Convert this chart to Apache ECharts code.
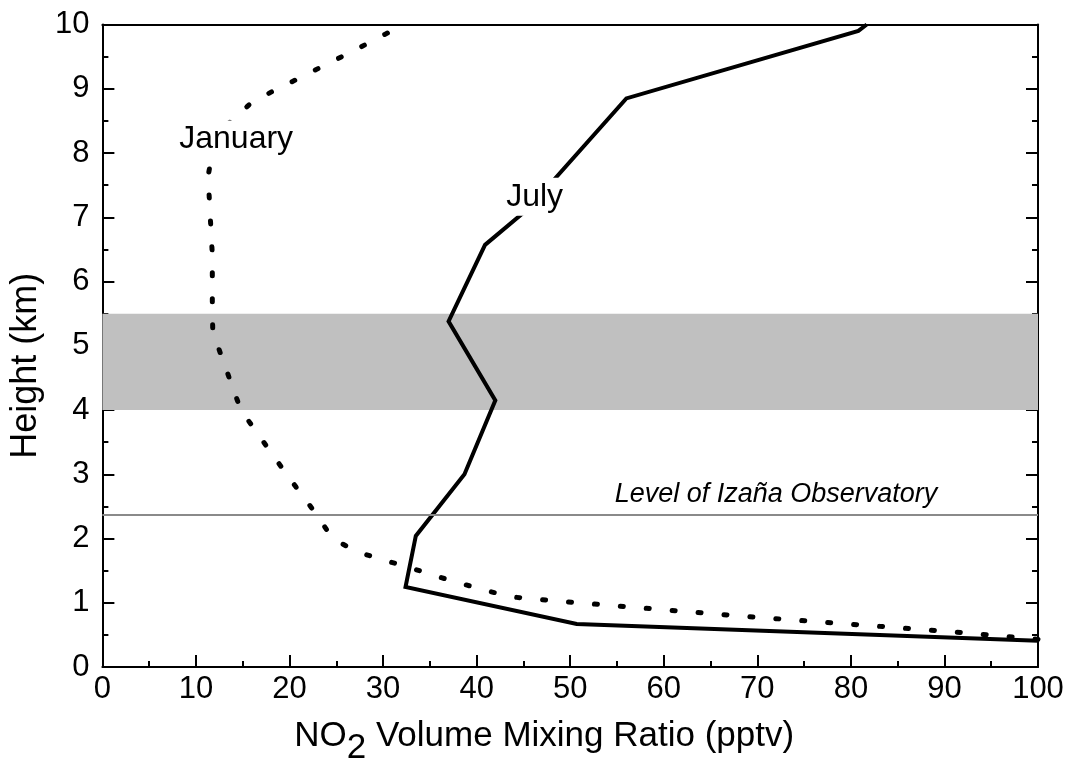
<!DOCTYPE html>
<html>
<head>
<meta charset="utf-8">
<script src="https://cdn.jsdelivr.net/npm/echarts@6/dist/echarts.min.js"></script>
<style>
html,body{margin:0;padding:0;background:#fff;}
#c{width:1076px;height:771px;}
</style>
</head>
<body>
<div id="c"></div>
<script>
// ---- data ----
const julyX = [100, 50.7, 32.4, 33.5, 38.7, 42.0, 37.0, 40.9, 45.5, 56.0, 80.8, 81.7];
const julyY = [0.41, 0.67, 1.245, 2.04, 3.0, 4.15, 5.38, 6.57, 7.13, 8.85, 9.9, 10.0];

const janX = [100, 90.6, 79.6, 68.5, 57.5, 49.2, 43.8, 41.0, 38.1, 35.3, 32.6, 29.9, 27.1, 24.6, 22.7, 20.7, 18.7, 16.7, 14.8, 13.8, 12.8, 11.8, 11.75, 11.75, 11.75, 11.6, 11.45, 11.3, 11.8, 13.4, 15.9, 18.7, 21.4, 24.2, 27.0, 29.8, 32.4];
const janY = [0.43, 0.55, 0.67, 0.79, 0.92, 1.02, 1.09, 1.19, 1.31, 1.43, 1.56, 1.67, 1.80, 2.0, 2.41, 2.80, 3.20, 3.61, 4.0, 4.40, 4.81, 5.21, 5.62, 6.02, 6.42, 6.82, 7.23, 7.64, 8.05, 8.45, 8.78, 9.0, 9.19, 9.40, 9.60, 9.82, 10.0];

const bandRange = [4.0, 5.5];
const izanaHeight = 2.37;

const labelTexts = ['January', 'July'];
const labelX = [14.3, 46.2];
const labelY = [8.21, 7.32];
const izanaText = 'Level of Izaña Observatory';
const izanaLabelPos = [72.0, 2.69];

const xTitle = ['NO', '2', ' Volume Mixing Ratio (pptv)'];
const yTitle = 'Height (km)';

// ---- chart ----
const FONT = '"Liberation Sans", Arial, Helvetica, sans-serif';
const zip = (a, b) => a.map((v, i) => [v, b[i]]);

const tickStyle = {color: '#000', width: 2};
function mkX(pos, main) {
  return {
    type: 'value', min: 0, max: 100, interval: 10, position: pos,
    axisLine: {show: true, onZero: false, lineStyle: {color: '#000', width: 2}},
    axisTick: {show: main, inside: true, length: 12, lineStyle: tickStyle},
    minorTick: {show: main, splitNumber: 2, length: 6, lineStyle: tickStyle},
    axisLabel: {show: main, fontSize: 31, color: '#000', fontFamily: FONT, margin: 7},
    splitLine: {show: false}, minorSplitLine: {show: false}
  };
}
function mkY(pos, main) {
  return {
    type: 'value', min: 0, max: 10, interval: 1, position: pos,
    axisLine: {show: true, onZero: false, lineStyle: {color: '#000', width: 2}},
    axisTick: {show: true, inside: true, length: 12, lineStyle: tickStyle},
    minorTick: {show: true, splitNumber: 2, length: 6, lineStyle: tickStyle},
    axisLabel: {show: main, fontSize: 31, color: '#000', fontFamily: FONT, margin: 13},
    splitLine: {show: false}, minorSplitLine: {show: false}
  };
}

const xa = mkX('bottom', true);
xa.name = '{a|' + xTitle[0] + '}{s|' + xTitle[1] + '}{a|' + xTitle[2] + '}';
xa.nameLocation = 'middle';
xa.nameGap = 45;
xa.nameTextStyle = {
  padding: [0, 52, 0, 0],
  rich: {
    a: {fontSize: 35, fontFamily: FONT, color: '#000', verticalAlign: 'bottom', lineHeight: 42},
    s: {fontSize: 35, fontFamily: FONT, color: '#000', verticalAlign: 'bottom', lineHeight: 42, padding: [0, 0, -12, 0]}
  }
};
const xtop = mkX('top', false);
xtop.axisTick = {show: false};
xtop.minorTick = {show: false};

const ya = mkY('left', true);
ya.name = yTitle;
ya.nameLocation = 'middle';
ya.nameGap = 46;
ya.nameTextStyle = {fontSize: 36, fontFamily: FONT, color: '#000', padding: [0, 40, 0, 0]};
const yr = mkY('right', false);

const chart = echarts.init(document.getElementById('c'), null, {renderer: 'canvas'});
chart.setOption({
  animation: false,
  backgroundColor: '#fff',
  grid: {left: 101, right: 38, top: 24.5, bottom: 102.5, containLabel: false},
  xAxis: [xa, xtop],
  yAxis: [ya, yr],
  series: [
    {
      type: 'line', data: [], z: 1, silent: true,
      markArea: {
        silent: true,
        itemStyle: {color: '#c0c0c0'},
        data: [[{yAxis: bandRange[0]}, {yAxis: bandRange[1]}]]
      },
      markLine: {
        silent: true, symbol: ['none', 'none'],
        lineStyle: {color: '#8a8a8a', width: 2, type: 'solid'},
        label: {show: false},
        data: [{yAxis: izanaHeight}]
      }
    },
    {
      name: 'January', type: 'line', data: zip(janX, janY), z: 3,
      showSymbol: false, symbol: 'none', clip: true,
      lineStyle: {color: '#000', width: 5, type: [3, 23], cap: 'round', join: 'round'}
    },
    {
      name: 'July', type: 'line', data: zip(julyX, julyY), z: 3,
      showSymbol: false, symbol: 'none', clip: true,
      lineStyle: {color: '#000', width: 4, type: 'solid', join: 'miter'}
    },
    {
      type: 'scatter', data: [], z: 5, silent: true,
      markPoint: {
        symbol: 'circle', symbolSize: 0, silent: true,
        data: labelTexts.map((t, i) => ({
          coord: [labelX[i], labelY[i]], value: t,
          label: {show: true, position: 'inside', formatter: t, fontSize: 32, fontFamily: FONT, color: '#000',
                  backgroundColor: '#fff', padding: [3, 4]}
        })).concat([{
          coord: izanaLabelPos, value: izanaText,
          label: {show: true, position: 'inside', formatter: izanaText, fontSize: 27, fontStyle: 'italic',
                  fontFamily: FONT, color: '#000'}
        }])
      }
    }
  ]
});
</script>
</body>
</html>
